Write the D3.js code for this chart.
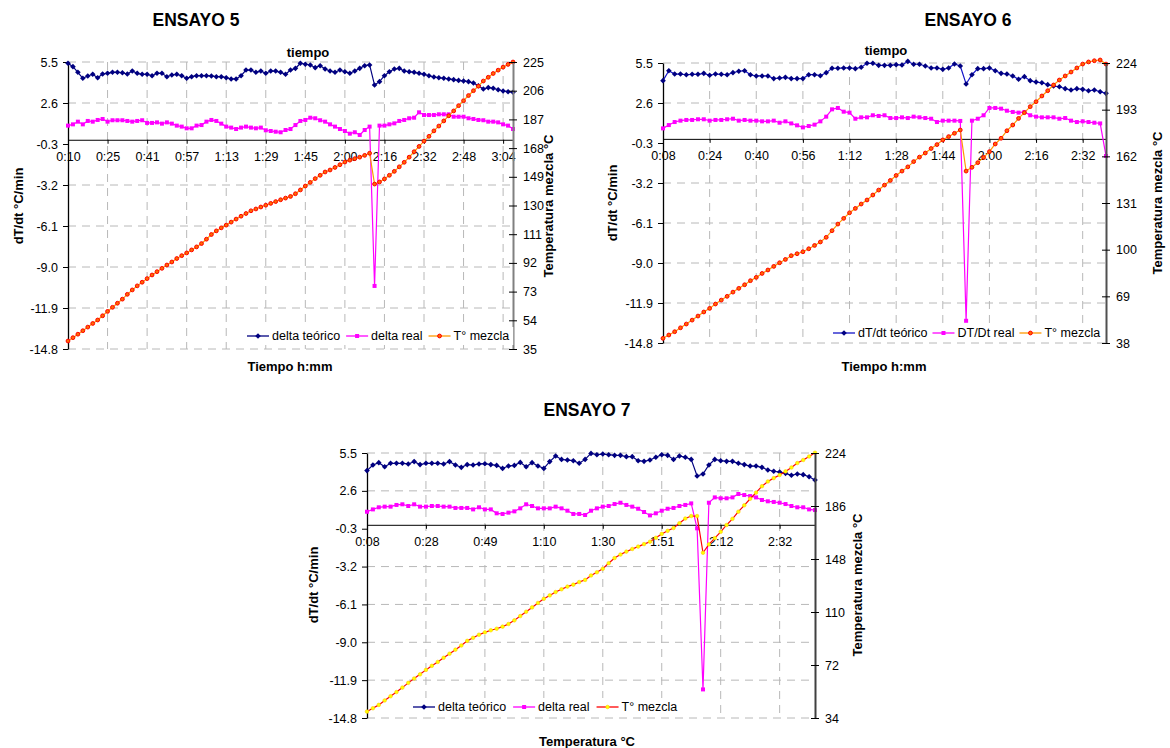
<!DOCTYPE html>
<html>
<head>
<meta charset="utf-8">
<script src="https://cdn.jsdelivr.net/npm/d3@7"></script>
<style>
  body { margin: 0; background: #fff; }
  svg { font-family: "Liberation Sans", Arial, sans-serif; }
</style>
</head>
<body>
<div id="chart"></div>
<script>
// left axis (dT/dt) ticks, shared by the three tests
const dtTicks = [5.5, 2.6, -0.3, -3.2, -6.1, -9.0, -11.9, -14.8];

// ---- ENSAYO 5 ----
const e5Labels = ["0:10", "0:25", "0:41", "0:57", "1:13", "1:29", "1:45", "2:00", "2:16", "2:32", "2:48", "3:04"];
const e5TTicks = [35, 54, 73, 92, 111, 130, 149, 168, 187, 206, 225];
const e5Teorico = [
  5.41, 5.17, 4.77, 4.35, 4.51, 4.63, 4.39, 4.65, 4.70, 4.77,
  4.77, 4.74, 4.65, 4.86, 4.70, 4.63, 4.63, 4.53, 4.70, 4.70,
  4.46, 4.58, 4.63, 4.53, 4.35, 4.46, 4.53, 4.53, 4.53, 4.51,
  4.46, 4.46, 4.39, 4.30, 4.30, 4.53, 4.93, 4.93, 4.77, 4.86,
  4.70, 4.86, 4.86, 4.77, 4.63, 4.93, 5.05, 5.41, 5.34, 5.29,
  5.10, 5.24, 5.00, 4.86, 4.77, 4.93, 4.81, 4.70, 4.86, 5.05,
  5.24, 5.29, 3.87, 4.11, 4.53, 4.81, 5.00, 5.05, 4.86, 4.81,
  4.77, 4.70, 4.63, 4.53, 4.44, 4.39, 4.35, 4.30, 4.25, 4.20,
  4.16, 4.11, 4.01, 3.82, 3.59, 3.69, 3.64, 3.54, 3.45, 3.40,
  3.36];
const e5Real = [
  1.00, 1.09, 1.28, 1.09, 1.33, 1.28, 1.40, 1.47, 1.28, 1.38,
  1.38, 1.38, 1.33, 1.28, 1.33, 1.38, 1.19, 1.19, 1.23, 1.14,
  1.23, 1.14, 1.00, 0.93, 0.81, 0.81, 1.00, 1.04, 1.28, 1.40,
  1.33, 1.14, 0.93, 0.86, 0.76, 0.86, 0.93, 0.86, 0.81, 0.86,
  0.67, 0.62, 0.57, 0.53, 0.69, 0.76, 1.04, 1.33, 1.40, 1.56,
  1.52, 1.38, 1.28, 1.09, 0.93, 0.76, 0.62, 0.43, 0.53, 0.34,
  0.69, 0.93, -10.34, 1.00, 1.00, 1.09, 1.16, 1.33, 1.40, 1.52,
  1.56, 1.94, 1.75, 1.75, 1.75, 1.80, 1.80, 1.80, 1.63, 1.63,
  1.63, 1.52, 1.47, 1.40, 1.38, 1.28, 1.28, 1.23, 1.09, 1.00,
  0.76];
const e5Mezcla = [
  40.3, 42.5, 44.8, 47.1, 49.5, 51.9, 54.2, 57.0, 59.9, 62.6,
  65.3, 68.0, 71.2, 74.1, 76.8, 79.2, 81.6, 84.0, 86.2, 88.4,
  90.6, 92.6, 94.9, 96.8, 98.6, 100.6, 102.6, 104.8, 107.7, 110.8,
  113.2, 115.2, 117.0, 119.0, 121.0, 122.9, 124.7, 126.5, 127.7, 129.0,
  130.2, 131.4, 132.6, 133.8, 134.9, 136.0, 137.8, 140.3, 142.9, 145.3,
  147.8, 150.0, 152.2, 153.5, 155.2, 157.0, 158.8, 160.0, 161.0, 162.0,
  163.2, 164.6, 144.2, 145.6, 147.6, 150.0, 152.6, 155.6, 158.6, 162.0,
  165.6, 169.1, 172.6, 175.8, 179.4, 182.6, 186.0, 189.4, 192.6, 196.1,
  199.4, 202.8, 206.0, 209.0, 212.4, 214.9, 217.4, 219.6, 221.6, 223.4,
  225.0];

// ---- ENSAYO 6 ----
const e6Labels = ["0:08", "0:24", "0:40", "0:56", "1:12", "1:28", "1:44", "2:00", "2:16", "2:32"];
const e6TTicks = [38, 69, 100, 131, 162, 193, 224];
const e6Teorico = [
  4.22, 4.94, 4.70, 4.70, 4.65, 4.68, 4.68, 4.75, 4.61, 4.70,
  4.68, 4.65, 4.80, 4.90, 4.94, 4.65, 4.56, 4.56, 4.56, 4.37,
  4.41, 4.46, 4.37, 4.37, 4.37, 4.65, 4.65, 4.58, 4.80, 5.12,
  5.12, 5.14, 5.14, 5.09, 5.19, 5.48, 5.48, 5.33, 5.33, 5.33,
  5.38, 5.35, 5.62, 5.41, 5.41, 5.28, 5.14, 5.14, 5.04, 5.14,
  5.43, 5.28, 3.98, 4.65, 5.09, 5.09, 5.14, 4.94, 4.75, 4.70,
  4.56, 4.32, 4.51, 4.22, 4.12, 4.07, 3.93, 3.83, 3.78, 3.64,
  3.54, 3.64, 3.59, 3.49, 3.54, 3.42, 3.30];
const e6Real = [
  0.76, 1.00, 1.22, 1.32, 1.37, 1.37, 1.42, 1.42, 1.32, 1.37,
  1.37, 1.42, 1.46, 1.32, 1.37, 1.32, 1.32, 1.27, 1.27, 1.32,
  1.17, 1.27, 1.12, 0.98, 0.83, 0.93, 1.03, 1.27, 1.61, 2.14,
  2.24, 1.97, 1.90, 1.46, 1.56, 1.56, 1.71, 1.66, 1.71, 1.51,
  1.51, 1.56, 1.51, 1.61, 1.56, 1.51, 1.46, 1.22, 1.32, 1.32,
  1.32, 1.30, -13.19, 1.32, 1.46, 1.71, 2.24, 2.24, 2.19, 2.04,
  1.95, 1.90, 1.95, 1.71, 1.61, 1.56, 1.56, 1.56, 1.46, 1.51,
  1.32, 1.22, 1.27, 1.22, 1.17, 1.12, -1.24];
const e6Mezcla = [
  41.1, 43.3, 45.5, 48.1, 50.6, 53.2, 55.9, 58.6, 61.0, 63.9,
  66.5, 69.0, 71.8, 74.3, 76.7, 79.4, 81.6, 84.2, 86.5, 88.9,
  91.3, 93.5, 96.0, 97.3, 98.6, 100.6, 102.8, 105.1, 108.2, 112.6,
  117.0, 120.8, 124.5, 127.4, 130.3, 133.0, 136.3, 139.6, 142.9, 146.0,
  149.3, 152.2, 155.0, 158.5, 161.5, 164.2, 167.2, 169.8, 172.9, 175.1,
  177.3, 179.5, 152.2, 154.7, 157.8, 161.3, 165.1, 170.2, 174.0, 179.0,
  182.8, 187.2, 191.0, 195.0, 198.3, 202.1, 205.6, 209.4, 212.7, 215.4,
  218.0, 220.7, 223.3, 224.7, 225.5, 226.0, 223.3];

// ---- ENSAYO 7 ----
const e7Labels = ["0:08", "0:28", "0:49", "1:10", "1:30", "1:51", "2:12", "2:32"];
const e7TTicks = [34, 72, 110, 148, 186, 224];
const e7Teorico = [
  4.15, 4.58, 4.76, 4.45, 4.71, 4.71, 4.71, 4.66, 4.84, 4.61,
  4.71, 4.71, 4.71, 4.66, 4.84, 4.58, 4.40, 4.61, 4.58, 4.66,
  4.68, 4.61, 4.55, 4.32, 4.50, 4.55, 4.78, 4.45, 4.76, 4.50,
  4.32, 4.84, 5.27, 5.01, 4.96, 4.91, 4.71, 5.01, 5.47, 5.37,
  5.42, 5.37, 5.32, 5.32, 5.22, 5.22, 4.91, 4.86, 4.96, 5.17,
  5.37, 5.32, 5.01, 5.27, 5.17, 5.01, 3.74, 3.89, 4.58, 5.01,
  4.91, 4.86, 4.86, 4.71, 4.61, 4.50, 4.50, 4.40, 4.20, 4.10,
  4.04, 3.94, 3.79, 3.89, 3.84, 3.68, 3.43];
const e7Real = [
  1.00, 1.18, 1.34, 1.39, 1.39, 1.52, 1.57, 1.44, 1.57, 1.39,
  1.39, 1.44, 1.44, 1.39, 1.39, 1.29, 1.29, 1.29, 1.18, 1.34,
  1.18, 1.18, 0.88, 0.83, 0.93, 1.03, 1.26, 1.57, 1.44, 1.26,
  1.26, 1.26, 1.39, 1.26, 1.08, 0.83, 0.83, 0.75, 1.08, 1.26,
  1.39, 1.44, 1.59, 1.69, 1.52, 1.39, 1.23, 0.98, 0.72, 0.88,
  1.08, 1.23, 1.29, 1.44, 1.52, 1.64, -0.27, -12.61, 1.69, 2.10,
  2.03, 2.03, 2.10, 2.36, 2.28, 2.20, 2.10, 1.90, 1.80, 1.75,
  1.69, 1.59, 1.44, 1.34, 1.34, 1.18, 1.13];
const e7Mezcla = [
  38.6, 41.0, 43.4, 46.6, 49.6, 52.6, 55.8, 59.2, 62.3, 65.3,
  68.5, 71.4, 74.2, 77.2, 80.1, 83.0, 86.0, 89.3, 91.5, 93.7,
  95.4, 96.9, 98.0, 99.5, 101.4, 104.0, 107.1, 110.2, 113.3, 116.5,
  119.5, 121.9, 124.3, 126.3, 128.2, 129.6, 131.5, 133.0, 136.2, 138.5,
  141.0, 145.0, 148.7, 151.2, 153.3, 155.2, 156.9, 158.7, 160.4, 163.2,
  166.0, 168.2, 170.2, 173.6, 177.0, 178.8, 178.8, 152.5, 158.5, 163.0,
  167.5, 172.4, 176.8, 181.9, 186.5, 191.2, 195.6, 200.2, 203.6, 206.0,
  208.2, 210.8, 213.6, 216.8, 219.0, 221.5, 224.2];

const legendA = ["delta teórico", "delta real", "T° mezcla"];
const legendB = ["dT/dt teórico", "DT/Dt real", "T° mezcla"];

const svg = d3.select("#chart")
  .append("svg")
  .attr("width", 1170)
  .attr("height", 748);

const diamond = "M0,-2.8L2.8,0L0,2.8L-2.8,0Z";
const tickFont = 12.5;

const drawPanel = (p) => {
  const g = svg.append("g");
  const n = p.teorico.length;

  // scales
  const x = d3.scaleLinear().domain([0, n - 1]).range([p.left, p.right]);
  const y = d3.scaleLinear().domain([-14.8, 5.5]).range([p.bottom, p.top]);
  const y2 = d3.scaleLinear().domain(p.tDomain).range([p.bottom, p.top]);
  const tickIdx = p.labels.map((l, i) => i * p.step);

  // dashed grid
  g.append("g")
    .selectAll("line")
    .data(dtTicks.filter((v) => Math.abs(y(v) - y(0)) > 6))
    .join("line")
    .attr("x1", p.left)
    .attr("x2", p.right)
    .attr("y1", (d) => y(d))
    .attr("y2", (d) => y(d))
    .attr("stroke", "#b8b8b8")
    .attr("stroke-dasharray", "8,6");
  g.append("g")
    .selectAll("line")
    .data(tickIdx.filter((i) => i > 0))
    .join("line")
    .attr("x1", (d) => x(d))
    .attr("x2", (d) => x(d))
    .attr("y1", p.top)
    .attr("y2", p.bottom)
    .attr("stroke", "#b8b8b8")
    .attr("stroke-dasharray", "8,6");

  // category axis crossing at 0
  const xAxis = d3.axisBottom(x)
    .tickValues(tickIdx)
    .tickFormat((d, i) => p.labels[i])
    .tickSize(4)
    .tickSizeOuter(0)
    .tickPadding(8);
  g.append("g")
    .attr("transform", "translate(0," + y(0) + ")")
    .call(xAxis)
    .call((a) => a.selectAll("text").attr("font-size", tickFont).attr("fill", "#000"))
    .call((a) => a.select(".domain").attr("stroke", "#000"));

  // left axis
  const yAxis = d3.axisLeft(y)
    .tickValues(dtTicks)
    .tickFormat((d) => d.toFixed(1))
    .tickSize(5)
    .tickSizeOuter(0)
    .tickPadding(5);
  g.append("g")
    .attr("transform", "translate(" + p.left + ",0)")
    .call(yAxis)
    .call((a) => a.selectAll("text").attr("font-size", tickFont).attr("fill", "#000"))
    .call((a) => a.select(".domain").attr("stroke", "#000").attr("stroke-width", 1.3));

  // series
  const line = (sc) => d3.line().x((d, i) => x(i)).y((d) => sc(d));

  g.append("path")
    .attr("d", line(y)(p.teorico))
    .attr("fill", "none")
    .attr("stroke", p.teoLine)
    .attr("stroke-width", 1.2);
  g.append("g")
    .selectAll("path")
    .data(p.teorico)
    .join("path")
    .attr("d", diamond)
    .attr("transform", (d, i) => "translate(" + x(i) + "," + y(d) + ")")
    .attr("fill", "#000080");

  g.append("path")
    .attr("d", line(y)(p.real))
    .attr("fill", "none")
    .attr("stroke", "#ff00ff")
    .attr("stroke-width", 1.2);
  g.append("g")
    .selectAll("rect")
    .data(p.real)
    .join("rect")
    .attr("x", (d, i) => x(i) - 2)
    .attr("y", (d) => y(d) - 2)
    .attr("width", 4)
    .attr("height", 4)
    .attr("fill", "#ff00ff");

  g.append("path")
    .attr("d", line(y2)(p.mezcla))
    .attr("fill", "none")
    .attr("stroke", p.mezLine)
    .attr("stroke-width", 1.2);
  g.append("g")
    .selectAll("circle")
    .data(p.mezcla)
    .join("circle")
    .attr("cx", (d, i) => x(i))
    .attr("cy", (d) => y2(d))
    .attr("r", p.mezR)
    .attr("fill", p.mezFill)
    .attr("stroke", p.mezStroke)
    .attr("stroke-width", p.mezSw);

  // right axis (secondary, cross ticks)
  const rAxis = d3.axisRight(y2)
    .tickValues(p.tTicks)
    .tickFormat((d) => d)
    .tickSize(4)
    .tickSizeOuter(0)
    .tickPadding(6);
  g.append("g")
    .attr("transform", "translate(" + p.right + ",0)")
    .call(rAxis)
    .call((a) => a.selectAll(".tick line").attr("x1", -4).attr("stroke", "#000"))
    .call((a) => a.selectAll("text").attr("font-size", tickFont).attr("fill", "#000"))
    .call((a) => a.select(".domain").attr("stroke", p.rAxisColor).attr("stroke-width", 2));

  // legend
  const leg = g.append("g");
  const names = p.legNames;
  const sym = [
    { c: p.teoLine, m: "d" },
    { c: "#ff00ff", m: "s" },
    { c: p.mezLine, m: "c" },
  ];
  let cx = p.legX;
  names.forEach((name, k) => {
    leg.append("line")
      .attr("x1", cx)
      .attr("x2", cx + 22)
      .attr("y1", p.legY)
      .attr("y2", p.legY)
      .attr("stroke", sym[k].c)
      .attr("stroke-width", 1.3);
    if (sym[k].m === "d") {
      leg.append("path").attr("d", diamond)
        .attr("transform", "translate(" + (cx + 11) + "," + p.legY + ")")
        .attr("fill", "#000080");
    } else if (sym[k].m === "s") {
      leg.append("rect").attr("x", cx + 9).attr("y", p.legY - 2)
        .attr("width", 4).attr("height", 4).attr("fill", "#ff00ff");
    } else {
      leg.append("circle").attr("cx", cx + 11).attr("cy", p.legY).attr("r", p.mezR)
        .attr("fill", p.mezFill).attr("stroke", p.mezStroke).attr("stroke-width", p.mezSw);
    }
    const t = leg.append("text")
      .attr("x", cx + 25)
      .attr("y", p.legY)
      .attr("dy", "0.35em")
      .attr("font-size", 12.5)
      .text(name);
    cx += 25 + t.node().getComputedTextLength() + p.legGap;
  });
  leg.insert("rect", ":first-child")
    .attr("x", p.legX - 4)
    .attr("y", p.legY - 9)
    .attr("width", cx - p.legX - p.legGap + 8)
    .attr("height", 18)
    .attr("fill", "#fff");

  // titles
  g.append("text")
    .attr("x", p.titleX)
    .attr("y", p.titleY)
    .attr("text-anchor", "middle")
    .attr("font-size", 17.5)
    .attr("font-weight", "bold")
    .text(p.title);
  if (p.tiempo) {
    g.append("text")
      .attr("x", p.tiempo[0])
      .attr("y", p.tiempo[1])
      .attr("text-anchor", "middle")
      .attr("font-size", 13)
      .attr("font-weight", "bold")
      .text("tiempo");
  }
  const axisTitle = (tx, ty, rot, txt) =>
    g.append("text")
      .attr("transform", "translate(" + tx + "," + ty + ")" + (rot ? " rotate(-90)" : ""))
      .attr("text-anchor", "middle")
      .attr("dy", "0.35em")
      .attr("font-size", 13)
      .attr("font-weight", "bold")
      .text(txt);
  axisTitle(p.yTitle[0], p.yTitle[1], true, "dT/dt °C/min");
  axisTitle(p.y2Title[0], p.y2Title[1], true, "Temperatura mezcla °C");
  axisTitle(p.xTitle[0], p.xTitle[1], false, p.xTitleText);
};

drawPanel({
  title: "ENSAYO 5", titleX: 196, titleY: 26, tiempo: [308, 57],
  left: 68, right: 513, top: 62, bottom: 349,
  teorico: e5Teorico, real: e5Real, mezcla: e5Mezcla,
  labels: e5Labels, step: 8, tDomain: [35, 225], tTicks: e5TTicks,
  teoLine: "#000080", mezLine: "#ff9900", mezFill: "#ff6a00", mezStroke: "#ff0000", mezR: 1.9, mezSw: 1,
  rAxisColor: "#808080",
  legNames: legendA, legX: 247, legY: 336, legGap: 6,
  yTitle: [18, 206], y2Title: [548, 206], xTitle: [290, 366], xTitleText: "Tiempo h:mm",
});

drawPanel({
  title: "ENSAYO 6", titleX: 968, titleY: 26, tiempo: [886, 55],
  left: 663, right: 1106, top: 63, bottom: 343,
  teorico: e6Teorico, real: e6Real, mezcla: e6Mezcla,
  labels: e6Labels, step: 8, tDomain: [38, 224], tTicks: e6TTicks,
  teoLine: "#1414c8", mezLine: "#ff9900", mezFill: "#ff6a00", mezStroke: "#ff0000", mezR: 1.9, mezSw: 1,
  rAxisColor: "#505050",
  legNames: legendB, legX: 833, legY: 333, legGap: 5,
  yTitle: [612, 203], y2Title: [1157, 203], xTitle: [884, 366], xTitleText: "Tiempo h:mm",
});

drawPanel({
  title: "ENSAYO 7", titleX: 587, titleY: 416, tiempo: null,
  left: 367, right: 815, top: 453, bottom: 718,
  teorico: e7Teorico, real: e7Real, mezcla: e7Mezcla,
  labels: e7Labels, step: 10, tDomain: [34, 224], tTicks: e7TTicks,
  teoLine: "#000080", mezLine: "#ff0000", mezFill: "#ffff00", mezStroke: "#ffcc00", mezR: 1.8, mezSw: 0.6,
  rAxisColor: "#404040",
  legNames: legendA, legX: 413, legY: 707, legGap: 7,
  yTitle: [313, 585], y2Title: [857, 585], xTitle: [587, 741], xTitleText: "Temperatura °C",
});
</script>
</body>
</html>
